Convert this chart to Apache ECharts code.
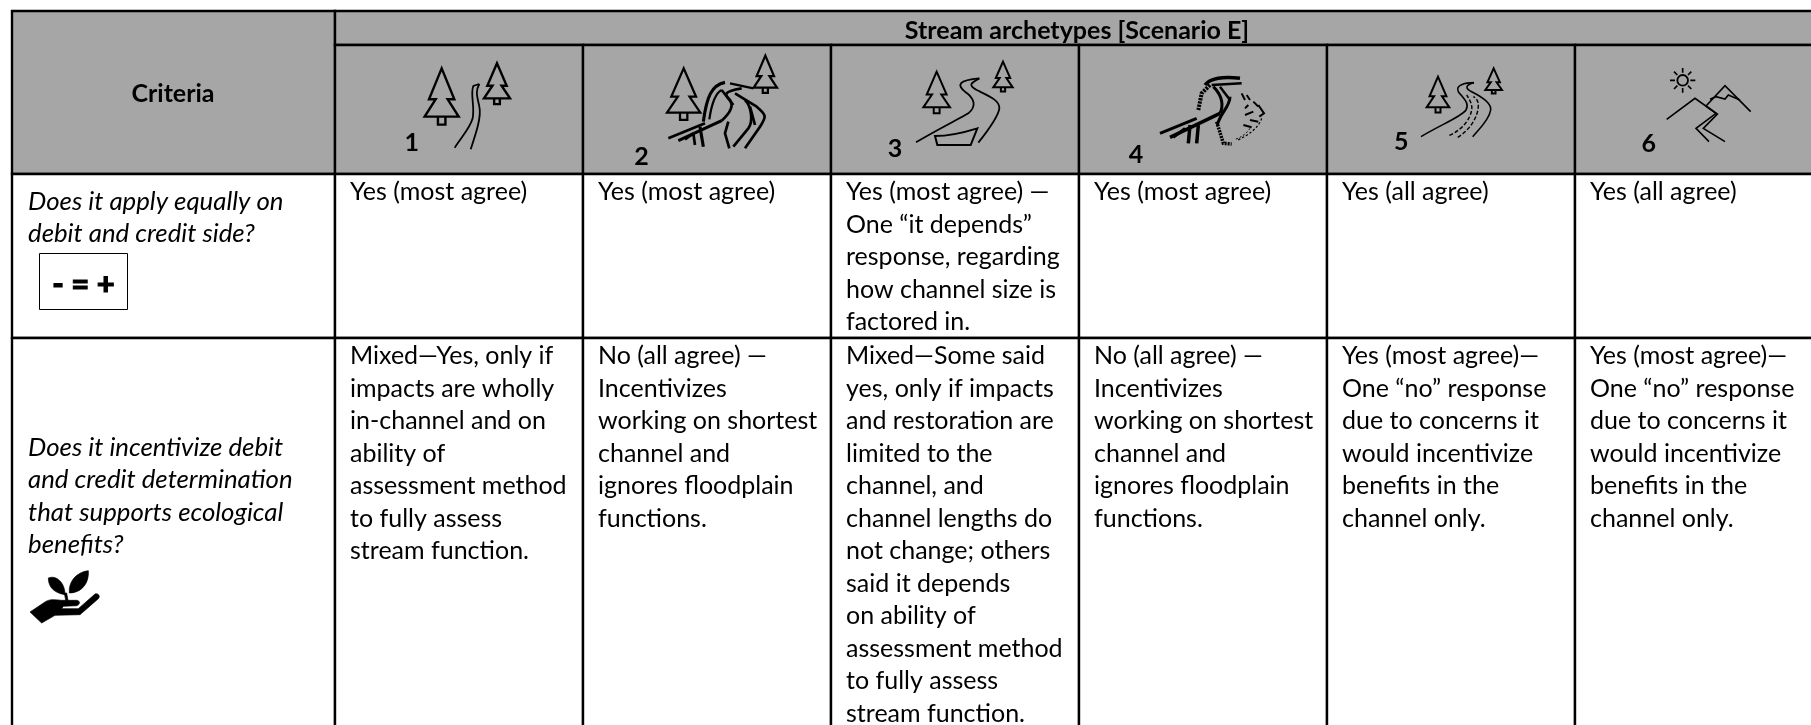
<!DOCTYPE html>
<html>
<head>
<meta charset="utf-8">
<style>html,body{margin:0;padding:0;background:#fff}#chart{width:1811px;height:725px}</style>
<script src="https://cdn.jsdelivr.net/npm/echarts@6/dist/echarts.min.js"></script>
</head>
<body>
<div id="chart"></div>
<script>
// ---------- table content ----------
const tableTitle = 'Stream archetypes [Scenario E]';
const criteriaHeader = 'Criteria';
const archetypeNumbers = ['1', '2', '3', '4', '5', '6'];
const criteriaQuestions = [
  'Does it apply equally on\ndebit and credit side?',
  'Does it incentivize debit\nand credit determination\nthat supports ecological\nbenefits?'
];
const symmetryBadge = '- = +';
const responsesRow1 = [
  'Yes (most agree)',
  'Yes (most agree)',
  'Yes (most agree) \u2014\nOne \u201cit depends\u201d\nresponse, regarding\nhow channel size is\nfactored in.',
  'Yes (most agree)',
  'Yes (all agree)',
  'Yes (all agree)'
];
const responsesRow2 = [
  'Mixed\u2014Yes, only if\nimpacts are wholly\nin-channel and on\nability of\nassessment method\nto fully assess\nstream function.',
  'No (all agree) \u2014\nIncentivizes\nworking on shortest\nchannel and\nignores floodplain\nfunctions.',
  'Mixed\u2014Some said\nyes, only if impacts\nand restoration are\nlimited to the\nchannel, and\nchannel lengths do\nnot change; others\nsaid it depends\non ability of\nassessment method\nto fully assess\nstream function.',
  'No (all agree) \u2014\nIncentivizes\nworking on shortest\nchannel and\nignores floodplain\nfunctions.',
  'Yes (most agree)\u2014\nOne \u201cno\u201d response\ndue to concerns it\nwould incentivize\nbenefits in the\nchannel only.',
  'Yes (most agree)\u2014\nOne \u201cno\u201d response\ndue to concerns it\nwould incentivize\nbenefits in the\nchannel only.'
];

// ---------- layout ----------
const W = 1811, H = 725;
const colX = [12, 335, 583, 831, 1079, 1327, 1575, 1830];
const rowY = [11, 45, 174, 338, 740];
const FONT = 'Lato';
const FS = 25;
const FS_ITALIC = 25.8;
const LH = 32.5;
const GREY = '#a6a6a6';
const INK = '#000000';
const RULE = '#000000';

function tree(cx, top, hw, base) {
  const h = base - top, ny = top + 0.64 * h, o = 0.745 * hw, i = 0.35 * hw, t = 0.22 * hw, tb = base + 0.165 * h;
  return `M${cx} ${top}L${cx - o} ${ny}L${cx - i} ${ny}L${cx - hw} ${base}L${cx + hw} ${base}L${cx + i} ${ny}L${cx + o} ${ny}ZM${cx - t} ${base}L${cx - t} ${tb}L${cx + t} ${tb}L${cx + t} ${base}`;
}

const icons = [
  { at: [390, 50], k: 1.2, num: [21.7, 92.5], strokes: [
    { d: tree(155, 55, 51, 200), w: 6 }, { d: tree(321, 40, 39, 145), w: 6 },
    { d: 'M194 293C215 260 240 235 248 205C255 170 240 130 250 108L268 102', w: 4.5 },
    { d: 'M242 298C258 250 275 200 268 170C262 140 255 125 268 102', w: 4.5 }
  ]},
  { at: [650, 50], k: 1.35, num: [-8.5, 107], strokes: [
    { d: tree(101, 55, 50, 188), w: 5 }, { d: tree(346, 17, 35, 113), w: 5 },
    { d: 'M55 265L165 220', w: 6 }, { d: 'M85 272L215 212', w: 7 }, { d: 'M130 250L105 268M130 250L135 285', w: 6 },
    { d: 'M150 230L160 290', w: 7 },
    { d: 'M160 215C170 140 185 105 225 97', w: 7 }, { d: 'M178 208C185 160 195 130 215 120', w: 5 },
    { d: 'M215 212C245 185 250 165 240 150C225 135 215 125 275 115', w: 6 },
    { d: 'M235 215L225 250L238 295', w: 6 }, { d: 'M215 120L250 165', w: 6 },
    { d: 'M240 100L310 115', w: 5 }, { d: 'M255 130L320 170C350 195 350 200 330 230L285 295', w: 6 },
    { d: 'M250 290L295 235C310 215 305 170 285 150', w: 6 }, { d: 'M300 170L315 225', w: 6 }
  ]},
  { at: [880, 50], k: 1.2, num: [15, 99], strokes: [
    { d: tree(170, 65, 40, 172), w: 5 }, { d: tree(369, 35, 29, 112), w: 5 },
    { d: 'M108 277C170 240 240 205 265 190C290 170 285 145 255 125C230 105 235 90 298 85', w: 4.5 },
    { d: 'M298 85C270 100 265 105 290 120C320 135 360 150 358 175C355 200 325 240 295 278', w: 4.5 },
    { d: 'M165 258C210 258 260 245 292 235L272 285L172 285Z', w: 5 }
  ]},
  { at: [1130, 50], k: 1.5, num: [6, 105], strokes: [
    { d: 'M225 105C240 85 280 78 330 85', w: 7 }, { d: 'M335 100L245 105', w: 5 },
    { d: 'M240 105L215 130L205 180', w: 8, dash: [7, 3] },
    { d: 'M90 250L200 205', w: 6 }, { d: 'M120 262L270 190', w: 7 }, { d: 'M165 235L130 262', w: 6 },
    { d: 'M180 225L175 280', w: 7 }, { d: 'M205 225L200 280', w: 7 },
    { d: 'M250 110C280 140 280 170 270 190', w: 6 }, { d: 'M270 110L300 150', w: 5 },
    { d: 'M300 140C300 170 270 190 262 225', w: 6 },
    { d: 'M260 215L280 280L305 282', w: 7, dash: [6, 3] },
    { d: 'M335 130L345 150M350 135L360 150M370 155L385 170M385 165L402 190L388 200M355 165L345 175M345 195L370 185M360 210L385 215M340 225L365 232', w: 4 },
    { d: 'M395 205C385 235 355 255 320 272', w: 2.5, dash: [7, 6] },
    { d: 'M360 235C350 250 335 262 315 268', w: 2, dash: [6, 6] }
  ]},
  { at: [1390, 50], k: 1.2, num: [11.3, 92], strokes: [
    { d: tree(144, 80, 34, 172), w: 5 }, { d: tree(311, 55, 25, 120), w: 5 },
    { d: 'M93 260C150 225 215 200 228 180C240 160 220 145 205 125C195 105 225 98 252 98', w: 4 },
    { d: 'M252 98C225 105 225 115 245 125C275 140 305 160 302 180C298 210 265 240 248 260', w: 4 },
    { d: 'M178 256C215 240 240 210 245 180C248 165 240 150 230 135', w: 3.5, dash: [12, 6] },
    { d: 'M203 262C240 240 265 200 265 165C265 155 260 145 250 140', w: 3.5, dash: [12, 6] }
  ]},
  { at: [1640, 50], k: 1.1, num: [8.7, 94], strokes: [
    { d: 'M144 91A16 16 0 1 1 112 91A16 16 0 1 1 144 91Z', w: 5 },
    { d: 'M128 54L128 68M128 114L128 128M90 91L105 91M151 91L166 91M102 65L112 75M144 107L154 117M154 65L144 75M112 107L102 117', w: 4.5 },
    { d: 'M80 208L165 145L228 190L168 235L207 275', w: 4.5 },
    { d: 'M198 168L255 107L332 185', w: 4.5 },
    { d: 'M210 148L228 140L255 147L265 135L300 150', w: 4.5 },
    { d: 'M198 168L232 192L190 235L255 275', w: 4.5 }
  ]}
];

const plantOrigin = [20, 558];
const plantIcon = [
  'M30 162L75 132C90 122 105 125 125 127L170 127C180 127 182 140 170 143L130 145L125 152L175 152L225 108C235 105 242 115 235 122L180 170L105 172L65 195Z',
  'M85 60C110 50 135 75 135 110C105 105 85 90 85 60Z',
  'M205 38C208 75 185 105 148 105C145 70 170 42 205 38Z',
  'M133 105L140 105L144 127L137 127Z'
];

// ---------- one datum per table cell ----------
const cells = [];
cells.push({ c0: 0, c1: 1, r0: 0, r1: 2, fill: GREY });
cells.push({ c0: 1, c1: 7, r0: 0, r1: 1, fill: GREY });
for (let i = 1; i <= 6; i++) cells.push({ c0: i, c1: i + 1, r0: 1, r1: 2, fill: GREY });
for (let r = 2; r <= 3; r++) for (let i = 0; i <= 6; i++) cells.push({ c0: i, c1: i + 1, r0: r, r1: r + 1, fill: '#ffffff' });

const texts = [];
texts.push({ t: criteriaHeader, x: 173, y: 94, bold: true, align: 'center' });
texts.push({ t: tableTitle, x: 1077, y: 31, bold: true, align: 'center' });
criteriaQuestions.forEach((q, i) => texts.push({ t: q, x: 28, y: i === 0 ? 185 : 431, italic: true, align: 'left' }));
responsesRow1.forEach((t, i) => texts.push({ t, x: colX[i + 1] + 15, y: 176, align: 'left' }));
responsesRow2.forEach((t, i) => texts.push({ t, x: colX[i + 1] + 15, y: 340, align: 'left' }));

const chart = echarts.init(document.getElementById('chart'), null, { renderer: 'canvas', width: W, height: H });

chart.setOption({
  animation: false,
  grid: { left: 0, right: 0, top: 0, bottom: 0 },
  xAxis: { type: 'value', min: 0, max: W, show: false },
  yAxis: { type: 'value', min: 0, max: H, inverse: true, show: false },
  series: [
    {
      type: 'custom', coordinateSystem: 'cartesian2d', silent: true, clip: false, z: 1,
      data: cells.map((c, i) => [colX[c.c0], rowY[c.r0], i]),
      renderItem(params, api) {
        const c = cells[api.value(2)];
        const a = api.coord([colX[c.c0], rowY[c.r0]]);
        const b = api.coord([colX[c.c1], rowY[c.r1]]);
        return { type: 'rect', shape: { x: a[0], y: a[1], width: b[0] - a[0], height: b[1] - a[1] },
          style: { fill: c.fill, stroke: RULE, lineWidth: 2.4 } };
      }
    },
    {
      type: 'custom', coordinateSystem: 'cartesian2d', silent: true, clip: false, z: 5,
      data: texts.map((t, i) => [t.x, t.y, i]),
      renderItem(params, api) {
        const t = texts[api.value(2)];
        const p = api.coord([t.x, t.y]);
        const multi = t.t.indexOf('\n') >= 0 || !t.bold;
        return { type: 'text', x: p[0], y: p[1], style: {
          text: t.t, fill: INK, fontFamily: FONT, fontSize: t.italic ? FS_ITALIC : FS,
          fontWeight: t.bold ? 'bold' : 'normal', fontStyle: t.italic ? 'italic' : 'normal',
          lineHeight: LH, align: t.align, verticalAlign: multi ? 'top' : 'middle'
        } };
      }
    },
    {
      type: 'custom', coordinateSystem: 'cartesian2d', silent: true, clip: false, z: 6,
      data: icons.map((ic, i) => [ic.at[0], ic.at[1], i]),
      renderItem(params, api) {
        const ic = icons[api.value(2)];
        const p = api.coord([ic.at[0], ic.at[1]]);
        return { type: 'group', x: p[0], y: p[1], children: [
          { type: 'group', scaleX: 1 / 3, scaleY: 1 / 3, children: ic.strokes.map(s => ({
            type: 'path', shape: { pathData: s.d },
            style: { fill: 'none', stroke: INK, lineWidth: s.w * ic.k, lineDash: s.dash || null }
          })) },
          { type: 'text', x: ic.num[0], y: ic.num[1], style: {
            text: archetypeNumbers[api.value(2)], fill: INK, fontFamily: FONT, fontWeight: 'bold', fontSize: 25,
            align: 'center', verticalAlign: 'middle' } }
        ] };
      }
    },
    {
      type: 'custom', coordinateSystem: 'cartesian2d', silent: true, clip: false, z: 6,
      data: [[plantOrigin[0], plantOrigin[1]]],
      renderItem(params, api) {
        const p = api.coord([plantOrigin[0], plantOrigin[1]]);
        const b = api.coord([39.5, 253.5]);
        const e = api.coord([127.5, 309.5]);
        return { type: 'group', children: [
          { type: 'group', x: p[0], y: p[1], scaleX: 1 / 3, scaleY: 1 / 3, children: plantIcon.map(d => ({
            type: 'path', shape: { pathData: d }, style: { fill: '#000', stroke: '#000', lineWidth: 2 } })) },
          { type: 'rect', shape: { x: b[0], y: b[1], width: e[0] - b[0], height: e[1] - b[1] },
            style: { fill: '#fff', stroke: '#000', lineWidth: 1 } },
          { type: 'text', x: (b[0] + e[0]) / 2, y: 285, style: {
            text: symmetryBadge, fill: INK, stroke: INK, lineWidth: 1, fontFamily: FONT, fontWeight: 900, fontSize: 31,
            align: 'center', verticalAlign: 'middle' } }
        ] };
      }
    }
  ]
});
</script>
</body>
</html>
